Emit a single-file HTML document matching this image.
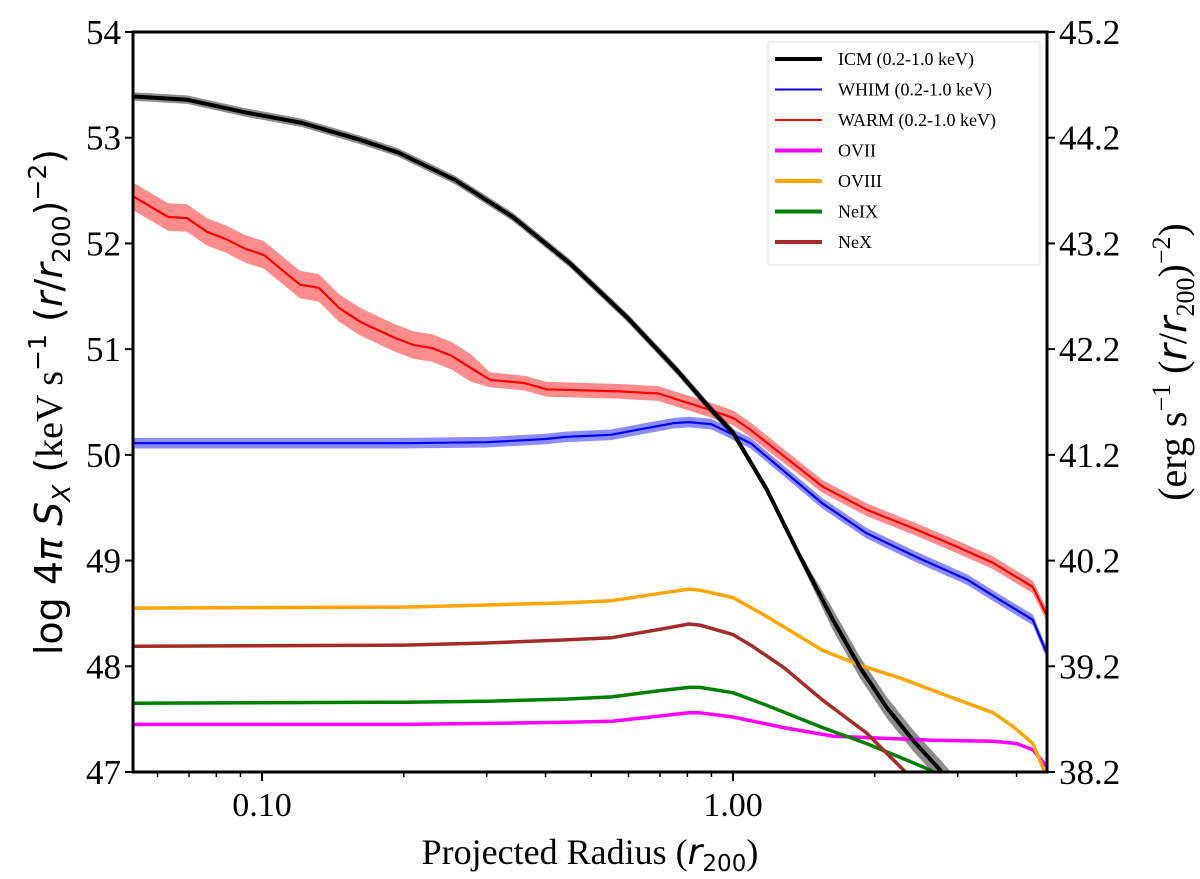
<!DOCTYPE html>
<html><head><meta charset="utf-8"><style>
html,body{margin:0;padding:0;background:#fff;}
svg{display:block;font-family:"Liberation Serif",serif;}
</style></head><body>
<svg id="chart" width="1200" height="879" viewBox="0 0 1200 879" xmlns="http://www.w3.org/2000/svg">
<defs><clipPath id="clip"><rect x="133" y="32" width="914" height="740"/></clipPath></defs>
<g id="bands" clip-path="url(#clip)"></g>
<g id="lines" clip-path="url(#clip)"></g>
<rect x="133" y="32" width="914" height="740" fill="none" stroke="#000" stroke-width="3"/>
<g id="axes"></g>
<text transform="translate(62,402) rotate(-90)" text-anchor="middle" font-family="DejaVu Sans, sans-serif" font-size="38">log 4<tspan font-style="italic">π S</tspan><tspan font-size="25" dy="8" font-style="italic">X</tspan><tspan dy="-8"> (</tspan><tspan font-family="Liberation Serif, serif">keV s</tspan><tspan font-size="25" dy="-16">−1</tspan><tspan dy="16"> (</tspan><tspan font-style="italic">r</tspan>/<tspan font-style="italic">r</tspan><tspan font-size="25" dy="8">200</tspan><tspan dy="-8">)</tspan><tspan font-size="25" dy="-16">−2</tspan><tspan dy="16">)</tspan></text>
<text transform="translate(1186,362) rotate(-90)" text-anchor="middle" font-size="40">(erg s<tspan font-size="26" dy="-16">−1</tspan><tspan dy="16"> (</tspan><tspan font-style="italic" font-family="DejaVu Sans, sans-serif">r</tspan>/<tspan font-style="italic" font-family="DejaVu Sans, sans-serif">r</tspan><tspan font-size="26" dy="8">200</tspan><tspan dy="-8">)</tspan><tspan font-size="26" dy="-16">−2</tspan><tspan dy="16">)</tspan></text>
<text x="590" y="864" text-anchor="middle" font-size="36">Projected Radius (<tspan font-style="italic" font-family="DejaVu Sans, sans-serif">r</tspan><tspan font-size="23" dy="7" font-family="DejaVu Sans, sans-serif">200</tspan><tspan dy="-7">)</tspan></text>
<g id="legend">
<rect x="768" y="42" width="272" height="223" fill="#fff" stroke="#ddd" stroke-width="1" rx="2"/>
</g>
</svg>
<script>
const icmX=[0.0535,0.0693,0.092,0.1216,0.1615,0.1945,0.257,0.341,0.451,0.596,0.760,0.902,1.0,1.18,1.39,1.63,1.86,2.12,2.41,2.75,3.1];
const icmY=[53.39,53.36,53.24,53.14,52.98,52.86,52.60,52.25,51.81,51.30,50.80,50.42,50.21,49.67,49.03,48.44,47.99,47.61,47.30,47.02,46.75];
const warmX=[0.0535,0.0632,0.0693,0.0764,0.0839,0.092,0.101,0.1204,0.132,0.1457,0.1615,0.1906,0.2094,0.2297,0.252,0.278,0.305,0.36,0.403,0.575,0.693,0.791,0.902,1.0,1.087,1.55,1.925,2.46,2.99,3.56,4.33,4.64];
const warmY=[52.44,52.25,52.24,52.11,52.04,51.95,51.89,51.61,51.58,51.39,51.26,51.11,51.04,51.01,50.94,50.82,50.71,50.68,50.62,50.60,50.58,50.50,50.42,50.35,50.24,49.70,49.48,49.29,49.13,48.98,48.75,48.48];
const whimX=[0.0535,0.1,0.2,0.3,0.4,0.44,0.55,0.65,0.75,0.806,0.9,0.95,1.09,1.55,1.92,2.46,3.14,3.68,4.33,4.64];
const whimY=[50.11,50.11,50.11,50.12,50.15,50.17,50.19,50.25,50.30,50.31,50.29,50.24,50.11,49.54,49.26,49.03,48.82,48.63,48.44,48.12];
const ovIIIX=[0.0535,0.2,0.3,0.44,0.553,0.7,0.806,0.85,1.0,1.18,1.55,1.86,2.26,2.89,3.57,3.93,4.33,4.64];
const ovIIIY=[48.55,48.56,48.58,48.60,48.62,48.69,48.73,48.72,48.65,48.47,48.15,48.01,47.89,47.71,47.56,47.43,47.27,46.95];
const nexX=[0.0535,0.2,0.3,0.44,0.553,0.7,0.806,0.85,1.0,1.09,1.28,1.55,1.92,2.3,2.6];
const nexY=[48.19,48.20,48.22,48.25,48.27,48.35,48.40,48.39,48.30,48.20,47.99,47.68,47.37,47.02,46.75];
const neixX=[0.0535,0.2,0.3,0.44,0.553,0.7,0.806,0.85,1.0,1.18,1.55,1.92,2.26,2.62,2.9];
const neixY=[47.65,47.66,47.67,47.69,47.71,47.77,47.80,47.80,47.75,47.63,47.42,47.27,47.14,47.02,46.9];
const oviiX=[0.0535,0.2,0.3,0.44,0.553,0.7,0.806,0.85,1.0,1.28,1.63,2.08,2.66,3.57,4.0,4.33,4.66];
const oviiY=[47.45,47.45,47.46,47.47,47.48,47.53,47.56,47.56,47.52,47.42,47.34,47.32,47.30,47.29,47.27,47.21,47.04];
const yTicks=[47,48,49,50,51,52,53,54];
const y2Labels=["38.2","39.2","40.2","41.2","42.2","43.2","44.2","45.2"];
const xMajor=[0.1,1.0];
const xMajorLabels=["0.10","1.00"];
const xMinor=[0.06,0.07,0.08,0.09,0.2,0.3,0.4,0.5,0.6,0.7,0.8,0.9,2,3,4];

const NS="http://www.w3.org/2000/svg";
const X0=133,X1=1047,Y0=32,Y1=772;
const DEC=471;
function xs(v){return 262+(Math.log10(v)+1)*DEC;}
function ys(v){return Y1-(v-47)*(Y1-Y0)/7;}
function mk(tag,attrs,parent){const e=document.createElementNS(NS,tag);for(const k in attrs)e.setAttribute(k,attrs[k]);parent.appendChild(e);return e;}
function pathOf(xa,ya,off){return xa.map((x,i)=>(i?'L':'M')+xs(x).toFixed(1)+','+ys(ya[i]+off).toFixed(1)).join('');}
function bandOf(xa,ya,w){let up=xa.map((x,i)=>(i?'L':'M')+xs(x).toFixed(1)+','+ys(ya[i]+w[i]).toFixed(1)).join('');
 let dn=xa.slice().reverse().map((x,j)=>{const i=xa.length-1-j;return 'L'+xs(x).toFixed(1)+','+ys(ya[i]-w[i]).toFixed(1);}).join('');return up+dn+'Z';}
const bands=document.getElementById('bands'),lines=document.getElementById('lines'),axes=document.getElementById('axes');
let bw=warmX.map(x=>x<0.3?0.13:(x<1.2?0.07:0.06));
let b=mk('path',{d:bandOf(warmX,warmY,bw),fill:'#ff0000','fill-opacity':0.45},bands);


let bb=whimX.map(x=>0.05);
b=mk('path',{d:bandOf(whimX,whimY,bb),fill:'#0000ff','fill-opacity':0.45},bands);


let bi=icmX.map(x=>x<1.5?0.04:0.1);
b=mk('path',{d:bandOf(icmX,icmY,bi),fill:'#000','fill-opacity':0.45},bands);


const series=[
 ['ovii-line',oviiX,oviiY,'#ff00ff',3.5],
 ['neix-line',neixX,neixY,'#008000',3.5],
 ['nex-line',nexX,nexY,'#a52a2a',3.5],
 ['oviii-line',ovIIIX,ovIIIY,'#ffa500',3.5],
 ['whim-line',whimX,whimY,'#0000ff',2.2],
 ['warm-line',warmX,warmY,'#ff0000',2.2],
 ['icm-line',icmX,icmY,'#000000',4]];
series.forEach(s=>{const p=mk('path',{d:pathOf(s[1],s[2],0),fill:'none',stroke:s[3],'stroke-width':s[4],'stroke-linejoin':'round'},lines);
 
 });
yTicks.forEach((t,i)=>{const y=ys(t);
 let l=mk('line',{x1:X0-8,x2:X0,y1:y,y2:y,stroke:'#000','stroke-width':2},axes);
 
 
 let tx=mk('text',{x:X0-12,y:y+12,'text-anchor':'end','font-size':35},axes);tx.textContent=t;
 
 
 l=mk('line',{x1:X1,x2:X1+8,y1:y,y2:y,stroke:'#000','stroke-width':2},axes);
 
 
 tx=mk('text',{x:X1+12,y:y+12,'text-anchor':'start','font-size':35},axes);tx.textContent=y2Labels[i];
 
 });
xMajor.forEach((t,i)=>{const x=xs(t);
 let l=mk('line',{x1:x,x2:x,y1:Y1,y2:Y1+9,stroke:'#000','stroke-width':2},axes);
 
 
 let tx=mk('text',{x:x,y:Y1+44,'text-anchor':'middle','font-size':34},axes);tx.textContent=xMajorLabels[i];
 
 });
xMinor.forEach(t=>{const x=xs(t);
 let l=mk('line',{x1:x,x2:x,y1:Y1,y2:Y1+5,stroke:'#000','stroke-width':1.5},axes);
 
 });
const legNames=["ICM (0.2-1.0 keV)","WHIM (0.2-1.0 keV)","WARM (0.2-1.0 keV)","OVII","OVIII","NeIX","NeX"];
const legColors=['#000000','#0000ff','#ff0000','#ff00ff','#ffa500','#008000','#a52a2a'];
const legW=[4,2,2,4,4,4,4];
const leg=document.getElementById('legend');
legNames.forEach((n,i)=>{const y=59+i*30.5;
 let l=mk('line',{x1:775,x2:822,y1:y,y2:y,stroke:legColors[i],'stroke-width':legW[i]},leg);
 
 
 let t=mk('text',{x:838,y:y+6,'font-size':18},leg);t.textContent=n;
 
 });
</script>
</body></html>
